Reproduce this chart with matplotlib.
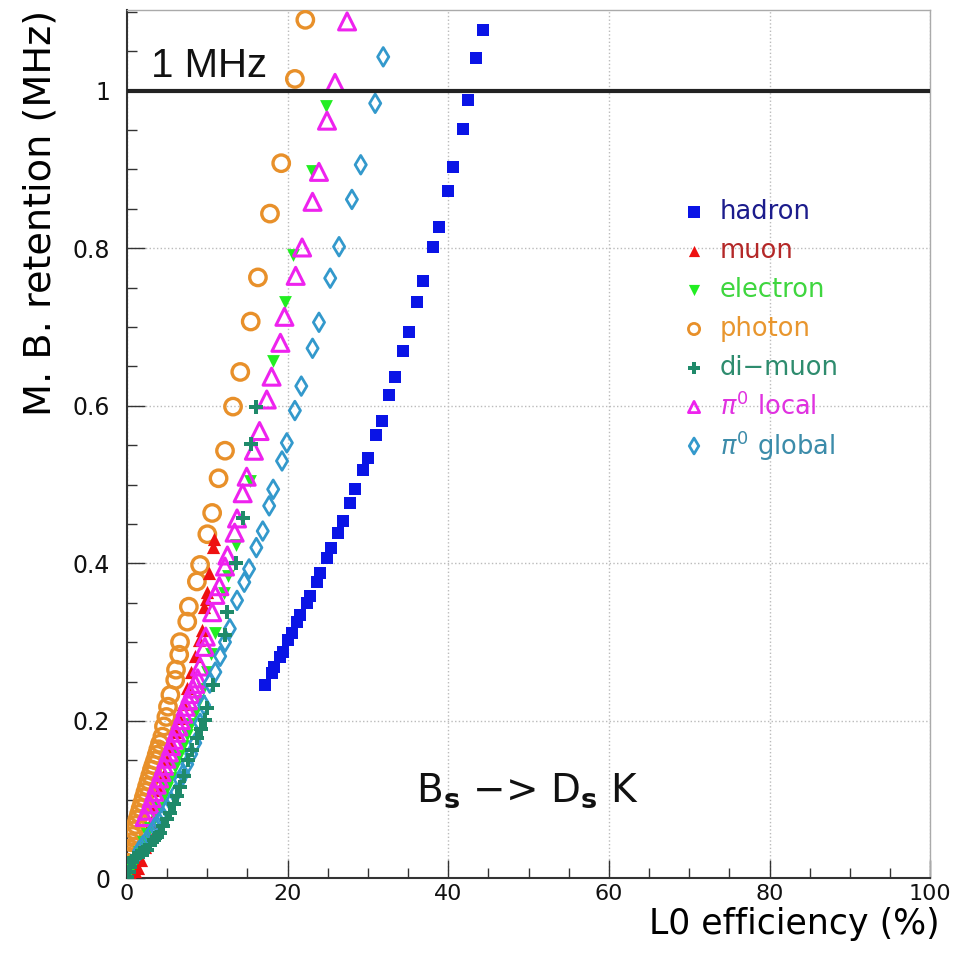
import matplotlib
matplotlib.use("Agg")
import matplotlib.pyplot as plt
from matplotlib.ticker import MultipleLocator

plt.rcParams['font.family'] = ['DejaVu Sans']
plt.rcParams['mathtext.fontset'] = 'dejavusans'

# L0 efficiency (%) vs minimum bias retention (MHz)
hadron_x = [17.2, 18.0, 18.3, 19.1, 19.4, 20.1, 20.5, 21.2, 21.5, 22.4, 22.8, 23.6, 24.0, 24.9,
            25.4, 26.3, 26.9, 27.8, 28.4, 29.4, 30.0, 31.0, 31.8, 32.6, 33.4, 34.4, 35.1, 36.1,
            36.9, 38.1, 38.9, 40.0, 40.6, 41.8, 42.5, 43.5, 44.3]
hadron_y = [0.245, 0.261, 0.268, 0.281, 0.288, 0.303, 0.312, 0.326, 0.335, 0.350, 0.358, 0.376,
            0.388, 0.407, 0.419, 0.439, 0.454, 0.477, 0.494, 0.518, 0.534, 0.563, 0.581, 0.614,
            0.637, 0.670, 0.694, 0.732, 0.758, 0.801, 0.827, 0.873, 0.903, 0.952, 0.988, 1.042, 1.077]

muon_x = [0.5, 1.0, 1.4, 1.8, 2.2, 2.6, 3.0, 3.5, 4.0, 4.5, 5.0, 5.5, 6.0, 6.5, 7.0, 7.5, 8.0,
          8.5, 9.0, 9.3, 9.6, 9.8, 10.0, 10.2, 10.7, 10.8]
muon_y = [0.004, 0.009, 0.013, 0.024, 0.040, 0.056, 0.072, 0.092, 0.112, 0.130, 0.150, 0.168,
          0.186, 0.204, 0.222, 0.242, 0.262, 0.283, 0.303, 0.316, 0.345, 0.355, 0.364, 0.388,
          0.421, 0.431]

electron_x = [0.5, 1.0, 1.5, 2.0, 2.5, 2.9, 3.5, 4.0, 4.5, 5.0, 5.5, 6.0, 6.5, 7.0, 7.5, 8.0,
              8.5, 9.0, 9.5, 10.0, 10.5, 11.0, 12.1, 12.6, 13.6, 15.3, 18.2, 19.7, 20.7, 23.0, 24.8]
electron_y = [0.012, 0.022, 0.034, 0.046, 0.056, 0.064, 0.078, 0.090, 0.102, 0.115, 0.128, 0.141,
              0.155, 0.168, 0.182, 0.196, 0.210, 0.225, 0.240, 0.262, 0.285, 0.311, 0.362, 0.384,
              0.423, 0.504, 0.657, 0.732, 0.792, 0.898, 0.981]

photon_x = [0.0, 0.1, 0.2, 0.3, 0.5, 0.7, 0.9, 1.1, 1.3, 1.5, 1.7, 1.9, 2.1, 2.3, 2.5, 2.7, 2.9,
            3.1, 3.3, 3.5, 3.7, 3.9, 4.1, 4.4, 4.6, 4.9, 5.1, 5.4, 6.0, 6.1, 6.5, 6.6, 7.5, 7.7,
            8.7, 9.1, 10.0, 10.6, 11.4, 12.2, 13.2, 14.1, 15.4, 16.3, 17.8, 19.2, 20.9, 22.2]
photon_y = [0.020, 0.028, 0.032, 0.038, 0.046, 0.054, 0.061, 0.068, 0.075, 0.082, 0.089, 0.096,
            0.103, 0.110, 0.117, 0.124, 0.131, 0.138, 0.144, 0.150, 0.157, 0.164, 0.171, 0.180,
            0.193, 0.205, 0.218, 0.233, 0.252, 0.265, 0.284, 0.300, 0.326, 0.345, 0.377, 0.398,
            0.437, 0.464, 0.508, 0.543, 0.599, 0.643, 0.707, 0.763, 0.844, 0.908, 1.015, 1.090]

dimuon_x = [0.0, 0.2, 0.4, 0.6, 0.9, 1.2, 1.6, 2.0, 2.5, 2.9, 3.3, 3.7, 4.1, 4.5, 5.0, 5.4, 5.8,
            6.2, 6.6, 7.1, 7.6, 8.1, 8.7, 9.2, 9.7, 10.0, 10.7, 12.2, 12.4, 13.6, 14.4, 15.4, 16.1]
dimuon_y = [0.002, 0.008, 0.015, 0.021, 0.026, 0.029, 0.032, 0.034, 0.036, 0.042, 0.049, 0.053,
            0.058, 0.066, 0.075, 0.083, 0.094, 0.105, 0.116, 0.130, 0.150, 0.163, 0.178, 0.190,
            0.201, 0.217, 0.246, 0.309, 0.338, 0.400, 0.458, 0.551, 0.598]

pi0loc_x = [2.2, 2.5, 2.8, 3.1, 3.4, 3.7, 4.0, 4.3, 4.6, 4.9, 5.2, 5.5, 5.8, 6.1, 6.4, 6.7, 7.0,
            7.3, 7.6, 7.9, 8.2, 8.5, 8.8, 9.1, 9.7, 9.8, 10.6, 11.0, 11.5, 12.2, 12.5, 13.4, 13.7,
            14.4, 14.9, 15.8, 16.5, 17.4, 18.0, 19.1, 19.6, 21.0, 21.8, 23.1, 23.9, 24.9, 25.9, 27.4]
pi0loc_y = [0.078, 0.086, 0.094, 0.102, 0.110, 0.119, 0.127, 0.135, 0.143, 0.152, 0.160, 0.168,
            0.176, 0.185, 0.193, 0.201, 0.209, 0.218, 0.226, 0.234, 0.241, 0.247, 0.254, 0.269,
            0.294, 0.307, 0.338, 0.360, 0.371, 0.396, 0.410, 0.439, 0.457, 0.489, 0.510, 0.543,
            0.568, 0.608, 0.637, 0.680, 0.713, 0.765, 0.801, 0.859, 0.897, 0.962, 1.010, 1.088]

pi0glob_x = [1.5, 2.0, 2.5, 3.0, 3.5, 4.0, 4.5, 5.0, 5.5, 6.0, 6.6, 7.0, 7.5, 8.0, 8.5, 9.1, 9.6,
             10.3, 11.0, 11.6, 12.2, 12.8, 13.7, 14.6, 15.2, 16.1, 16.9, 17.7, 18.2, 19.3, 19.9,
             20.9, 21.7, 23.1, 23.9, 25.3, 26.4, 28.0, 29.1, 30.9, 31.9]
pi0glob_y = [0.035, 0.042, 0.049, 0.057, 0.065, 0.071, 0.078, 0.088, 0.097, 0.107, 0.125, 0.133,
             0.145, 0.158, 0.172, 0.197, 0.220, 0.248, 0.262, 0.282, 0.300, 0.317, 0.353, 0.376,
             0.393, 0.420, 0.441, 0.473, 0.494, 0.530, 0.553, 0.594, 0.625, 0.673, 0.706, 0.762,
             0.802, 0.862, 0.906, 0.984, 1.043]

fig = plt.figure(figsize=(9.55, 9.59), dpi=100)
ax = fig.add_axes([0.133, 0.084, 0.841, 0.906])

ax.scatter(photon_x, photon_y, s=140, marker='o', facecolors='none', edgecolors='#e8902a', linewidths=2.4, zorder=3)
ax.scatter(muon_x, muon_y, s=90, marker='^', color='#ee1111', linewidths=0, zorder=3)
ax.scatter(electron_x, electron_y, s=85, marker='v', color='#22ee22', linewidths=0, zorder=3)
ax.scatter(pi0loc_x, pi0loc_y, s=150, marker='^', facecolors='none', edgecolors='#ee22ee', linewidths=2.2, zorder=3)
ax.scatter(pi0glob_x, pi0glob_y, s=90, marker='d', facecolors='none', edgecolors='#3399cc', linewidths=2.0, zorder=3)
ax.scatter(dimuon_x, dimuon_y, s=115, marker='P', color='#1f8a6a', linewidths=0, zorder=3)
ax.scatter(hadron_x, hadron_y, s=80, marker='s', color='#0a14e6', linewidths=0, zorder=3)

ax.axhline(1.0, color='#222222', linewidth=3, zorder=4)
ax.text(3.0, 1.007, "1 MHz", fontsize=29, color='#111111', ha='left', va='bottom',
        family='Liberation Sans')
ax.text(36.0, 0.097, r"B$_{\mathbf{s}}$ $-$> D$_{\mathbf{s}}$ K", fontsize=28, color='#111111',
        ha='left', va='baseline')

# legend drawn by hand
leg_names = ["hadron", "muon", "electron", "photon", "di\u2212muon", r"$\pi^{0}$ local", r"$\pi^{0}$ global"]
leg_text_colors = ['#1c1c8c', '#b42828', '#3fd63f', '#e8962e', '#2e8c6e', '#e032e0', '#3c8caa']
leg_markers = [('s', '#0a14e6', True), ('^', '#ee1111', True), ('v', '#22ee22', True),
               ('o', '#e8902a', False), ('P', '#1f8a6a', True), ('^', '#ee22ee', False),
               ('d', '#3399cc', False)]
for i, (name, tc, (mk, mc, filled)) in enumerate(zip(leg_names, leg_text_colors, leg_markers)):
    yy = 0.846 - i * 0.0495
    if filled:
        ax.scatter([70.6], [yy], s=65, marker=mk, color=mc, linewidths=0, zorder=5)
    else:
        ax.scatter([70.6], [yy], s=65, marker=mk, facecolors='none', edgecolors=mc, linewidths=2, zorder=5)
    ax.text(73.8, yy, name, fontsize=18.5, color=tc, ha='left', va='center')

ax.set_xlim(0, 100)
ax.set_ylim(0, 1.103)
ax.xaxis.set_major_locator(MultipleLocator(20))
ax.xaxis.set_minor_locator(MultipleLocator(5))
ax.yaxis.set_minor_locator(MultipleLocator(0.05))
ax.set_yticks([0, 0.2, 0.4, 0.6, 0.8, 1.0])
ax.set_yticklabels(["0", "0.2", "0.4", "0.6", "0.8", "1"])
ax.tick_params(which='both', direction='in', top=False, right=False, labelsize=17, colors='#333333', labelcolor='#111111')
ax.tick_params(which='major', length=13, width=1)
ax.tick_params(which='minor', length=7, width=1)
ax.tick_params(axis='y', pad=12)
ax.tick_params(axis='x', pad=4, labelsize=16)
ax.grid(True, which='major', linestyle=':', color='#bbbbbb', linewidth=1)
for side in ['left', 'bottom']:
    ax.spines[side].set_color('#333333')
    ax.spines[side].set_linewidth(1.5)
for side in ['top', 'right']:
    ax.spines[side].set_color('#aaaaaa')
    ax.spines[side].set_linewidth(1)

ax.set_xlabel("L0 efficiency (%)", fontsize=25, ha='right', va='baseline')
ax.xaxis.set_label_coords(1.012, -0.064)
ax.set_ylabel("M. B. retention (MHz)", fontsize=27.5, loc='top', labelpad=10)

plt.savefig("out.png", dpi=100)
